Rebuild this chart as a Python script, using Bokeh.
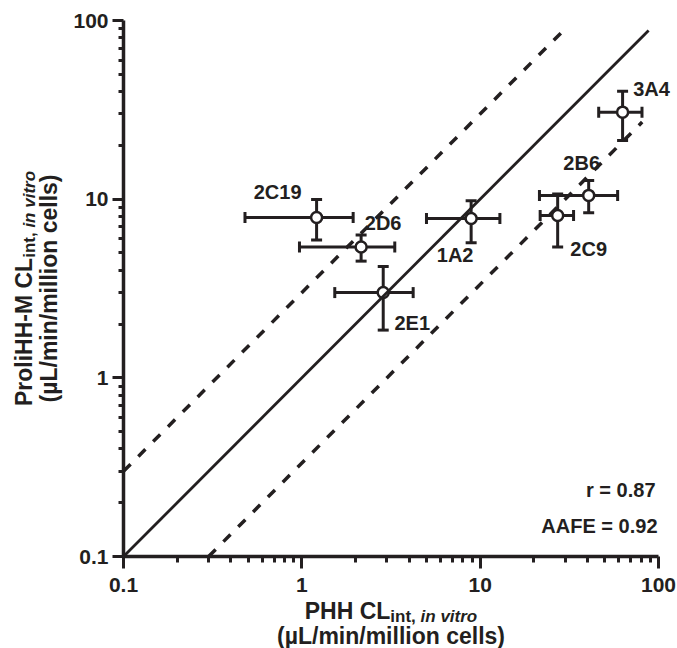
import math
from bokeh.plotting import figure
from bokeh.models import (ColumnDataSource, Whisker, TeeHead, LabelSet, Label,
                          FixedTicker, CustomJSTickFormatter, LogAxis)
from bokeh.core.properties import value
from bokeh.embed import file_html
from bokeh.resources import INLINE

# ---------------- data ----------------
names = ["2C19", "2D6", "2E1", "1A2", "2B6", "2C9", "3A4"]
phh_x = [1.21, 2.15, 2.86, 8.9, 40.6, 27.2, 62.9]
phh_x_lo = [0.48, 0.97, 1.53, 5.0, 21.5, 21.7, 46.2]
phh_x_hi = [1.94, 3.32, 4.21, 12.9, 59.0, 33.4, 80.8]
prolihh_y = [7.9, 5.4, 3.0, 7.8, 10.5, 8.1, 30.7]
prolihh_y_lo = [5.9, 4.5, 1.85, 5.7, 8.4, 5.4, 21.3]
prolihh_y_hi = [9.95, 6.3, 4.2, 9.8, 12.7, 10.7, 40.2]

major_ticks = [0.1, 1, 10, 100]
tick_labels = ["0.1", "1", "10", "100"]
minor_ticks = [k * 10.0 ** e for e in (-1, 0, 1) for k in range(2, 10)]
axis_bounds = (0.1, 100)

identity_x = [0.1, 88]
upper_fold_x = [0.1, 30]
lower_fold_x = [0.3, 81]
fold = 3.0

stats_r = "r = 0.87"
stats_aafe = "AAFE = 0.92"

# label offsets (screen px, right / down)
label_dx = [-39, 22, 29, -16, -7, 31, 29]
label_dy = [-25, -24, 30, 37, -32, 33, -23]

# ---------------- layout / style ----------------
FONT = "Liberation Sans"
INK = "#231f20"
W, H = 677, 648
# pixel placement of the axes box: decade 0.1 .. 100 on both axes
AX_L, AX_R, AX_T, AX_B = 123, 658, 20, 556
dec_x = (AX_R - AX_L) / 3.0
dec_y = (AX_B - AX_T) / 3.0

def px2x(px):
    return 10 ** (-1 + (px - AX_L) / dec_x)

def py2y(py):
    return 10 ** (2 - (py - AX_T) / dec_y)

p = figure(width=W, height=H, x_axis_type="log", y_axis_type="log",
           x_range=(px2x(0), px2x(W)), y_range=(py2y(H), py2y(0)),
           x_axis_location=None, y_axis_location=None,
           output_backend="svg", toolbar_location=None)
p.min_border = 0
p.outline_line_color = None
p.grid.visible = False
p.background_fill_color = "white"

fmt = CustomJSTickFormatter(args=dict(major_vals=major_ticks, major_txt=tick_labels), code="""
  for (let i = 0; i < major_vals.length; i++) {
    if (Math.abs(major_vals[i] - tick) < 1e-6 * major_vals[i]) return major_txt[i];
  }
  return "";
""")

def make_axis(tick_out, minor_out, standoff):
    ax = LogAxis(fixed_location=0.1, bounds=axis_bounds)
    ax.ticker = FixedTicker(ticks=major_ticks, minor_ticks=minor_ticks)
    ax.formatter = fmt
    ax.axis_line_width = 3.5
    ax.axis_line_color = INK
    ax.major_tick_line_width = 3
    ax.major_tick_line_color = INK
    ax.minor_tick_line_width = 3
    ax.minor_tick_line_color = INK
    ax.major_tick_in = 0
    ax.minor_tick_in = 0
    ax.major_tick_out = tick_out
    ax.minor_tick_out = minor_out
    ax.major_label_standoff = standoff
    ax.major_label_text_font = FONT
    ax.major_label_text_font_style = "bold"
    ax.major_label_text_font_size = "21px"
    ax.major_label_text_color = INK
    return ax

p.add_layout(make_axis(12, 6, 9), "below")
p.add_layout(make_axis(11, 5, 4), "left")

src = ColumnDataSource(dict(
    name=names, x=phh_x, xlo=phh_x_lo, xhi=phh_x_hi,
    y=prolihh_y, ylo=prolihh_y_lo, yhi=prolihh_y_hi,
    dx=label_dx, dy=[-v for v in label_dy],
))

def tee():
    return TeeHead(size=11, line_width=3, line_color=INK)

vw = Whisker(source=src, base="x", upper="yhi", lower="ylo", dimension="height",
             line_width=3, line_color=INK, level="underlay",
             upper_head=tee(), lower_head=tee())
hw = Whisker(source=src, base="y", upper="xhi", lower="xlo", dimension="width",
             line_width=3, line_color=INK, level="underlay",
             upper_head=tee(), lower_head=tee())
p.add_layout(vw)
p.add_layout(hw)

p.scatter("x", "y", source=src, size=11, fill_color="white",
          line_color=INK, line_width=2.5)

p.line(identity_x, identity_x, line_width=2.8, line_color=INK)
p.line(upper_fold_x, [v * fold for v in upper_fold_x], line_width=3.5,
       line_color=INK, line_dash="10 11")
p.line(lower_fold_x, [v / fold for v in lower_fold_x], line_width=3.5,
       line_color=INK, line_dash="10 11")

p.add_layout(LabelSet(x="x", y="y", text="name", x_offset="dx", y_offset="dy",
                      source=src, text_align="center", text_baseline="middle",
                      text_font=value(FONT), text_font_style="bold",
                      text_font_size="20px", text_color=INK))

SHIFT = 0.37  # baseline correction in em

def lab(px, py, text, size, style="bold", align="left", angle=0.0):
    if angle == 0.0:
        py -= SHIFT * size
    else:
        px -= SHIFT * size
    p.add_layout(Label(x=px2x(px), y=py2y(py), text=text,
                       text_font=FONT, text_font_style=style,
                       text_font_size=f"{size}px", text_color=INK,
                       text_align=align, text_baseline="alphabetic",
                       angle=angle))

lab(655, 497, stats_r, 20, align="right")
lab(657, 533, stats_aafe, 20, align="right")

# axis titles (pixel placement)
MAIN, SUB = 23, 17
w_main_x = 3.722 * MAIN
w_int = 1.778 * SUB
w_vitro = 3.334 * SUB
cx = (AX_L + AX_R) / 2
cy = (AX_T + AX_B) / 2

x0 = cx - (w_main_x + w_int + w_vitro) / 2
lab(x0, 619, "PHH CL", MAIN)
lab(x0 + w_main_x, 622, "int, ", SUB)
lab(x0 + w_main_x + w_int, 622, "in vitro", SUB, style="bold italic")
lab(cx, 644, "(\u00b5L/min/million cells)", MAIN, align="center")

w_main_y = 6.444 * MAIN
y0 = cy + (w_main_y + w_int + w_vitro) / 2
rot = math.pi / 2
lab(32, y0, "ProliHH-M CL", MAIN, angle=rot)
lab(35, y0 - w_main_y, "int, ", SUB, angle=rot)
lab(35, y0 - w_main_y - w_int, "in vitro", SUB, style="bold italic", angle=rot)
lab(57, cy, "(\u00b5L/min/million cells)", MAIN, align="center", angle=rot)

open("out.html", "w").write(file_html(p, INLINE))
